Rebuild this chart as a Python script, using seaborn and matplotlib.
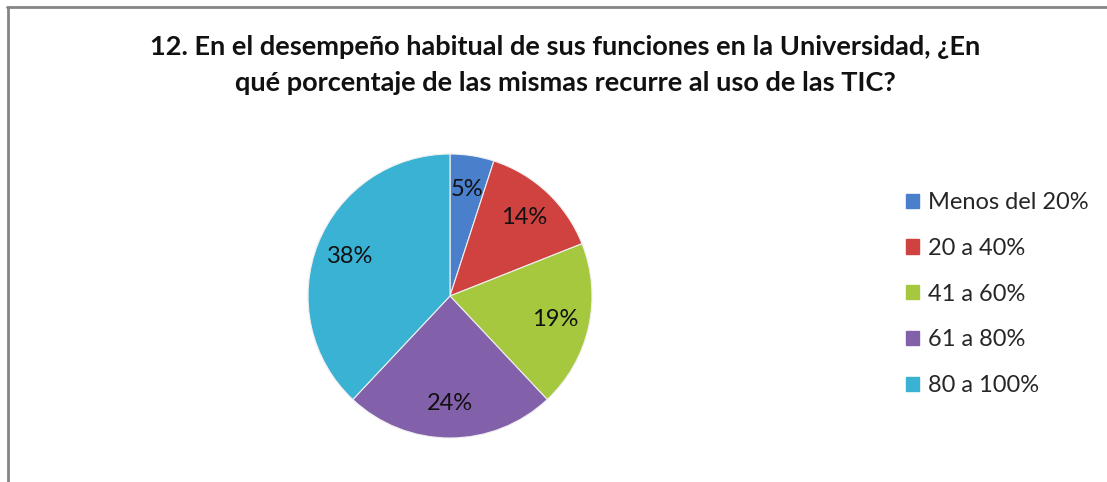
import matplotlib
matplotlib.use("Agg")
import matplotlib.pyplot as plt
from matplotlib.lines import Line2D
from matplotlib.patches import Patch
import seaborn as sns

categories = ["Menos del 20%", "20 a 40%", "41 a 60%", "61 a 80%", "80 a 100%"]
values = [5, 14, 19, 24, 38]
colors = ["#4a7fcb", "#d0423f", "#a5c83f", "#8360aa", "#3ab2d4"]
title = "12. En el desempeño habitual de sus funciones en la Universidad, ¿En\nqué porcentaje de las mismas recurre al uso de las TIC?"

sns.set_theme(style="white")
plt.rcParams["font.family"] = ["Lato", "DejaVu Sans"]

W, H = 1107, 482
fig = plt.figure(figsize=(W / 100, H / 100), dpi=100)

cx, cy, r = 450, 296, 142
ax = fig.add_axes([(cx - r) / W, (H - cy - r) / H, 2 * r / W, 2 * r / H])
wedges, texts, autotexts = ax.pie(
    values, colors=colors, startangle=90, counterclock=False,
    autopct=lambda p: f"{p:.0f}%", pctdistance=0.76, radius=1.0,
    wedgeprops=dict(edgecolor="#f0f0f0", linewidth=0.8),
    textprops=dict(fontsize=17, color="#111111"))
ax.set_xlim(-1.0, 1.0)
ax.set_ylim(-1.0, 1.0)
ax.set_aspect("equal")
ax.axis("off")

fig.text(565 / W, 1 - 65 / H, title, ha="center", va="center",
         fontsize=19.5, fontweight="bold", color="#111111", linespacing=1.6)

handles = [Patch(facecolor=c, edgecolor=c) for c in colors]
fig.legend(handles, categories, loc="upper left",
           bbox_to_anchor=(906 / W, 1 - 192 / H), frameon=False,
           fontsize=17, handlelength=0.55, handleheight=0.55,
           handletextpad=0.4, labelspacing=1.05, borderpad=0,
           borderaxespad=0)

fig.add_artist(Line2D([7 / W, 1.0], [1 - 6.5 / H, 1 - 6.5 / H], color="#858585", lw=2.0))
fig.add_artist(Line2D([8 / W, 8 / W], [0, 1 - 6.5 / H], color="#858585", lw=2.0))

fig.savefig("out.png", dpi=100, facecolor="white")
